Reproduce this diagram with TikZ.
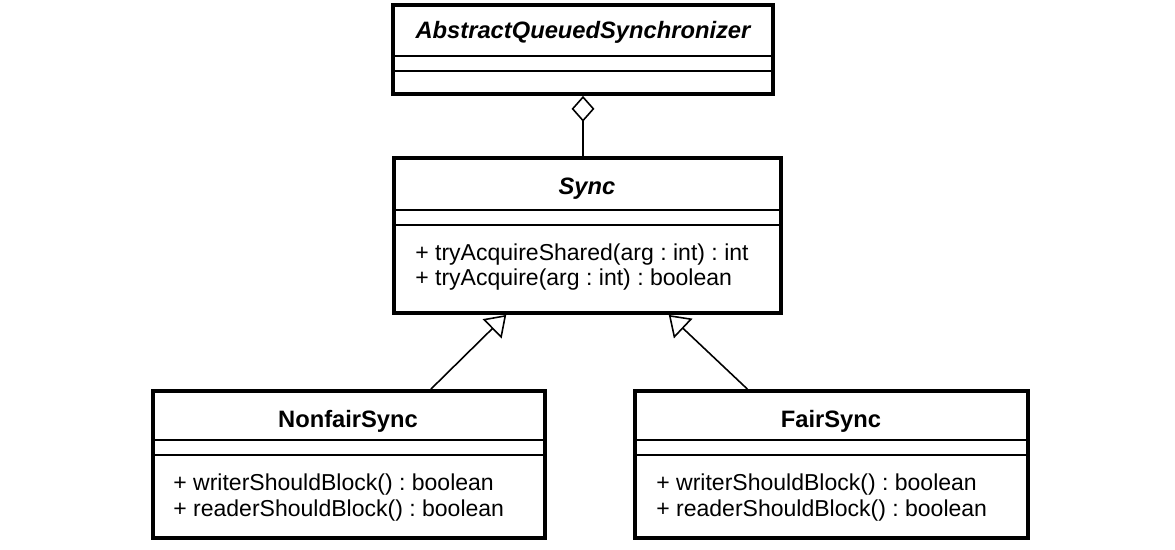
\documentclass[tikz,border=0pt]{standalone}
\usepackage{fontspec}
\setmainfont{Liberation Sans}
\usetikzlibrary{arrows.meta, positioning, calc}

\newcommand{\umlfont}{\fontsize{13.5}{16}\selectfont\frenchspacing}
\newcommand{\opfont}{\fontsize{13.1}{16}\selectfont\frenchspacing}

\begin{document}
\begin{tikzpicture}[x=0.02cm, y=-0.02cm,
    umlbox/.style={draw, line width=2.2pt, inner sep=0pt},
    sep/.style={line width=1pt},
    cname/.style={font=\umlfont\bfseries, anchor=base, inner sep=0pt},
    aname/.style={font=\umlfont\bfseries\itshape, anchor=base, inner sep=0pt},
    op/.style={font=\opfont, anchor=base west, inner sep=0pt},
    inherit/.style={line width=0.9pt, -{Triangle[open, length=11.3pt, width=15.3pt]}},
    aggr/.style={line width=0.9pt, -{Diamond[open, length=14.7pt, width=13pt]}}]

  \useasboundingbox (0,0) rectangle (1175,550);

  % class boxes
  \node[umlbox, minimum width=7.6cm, minimum height=1.78cm] (aqs) at (583,49.5) {};
  \node[umlbox, minimum width=7.74cm, minimum height=3.1cm] (sync) at (587.5,235.5) {};
  \node[umlbox, minimum width=7.84cm, minimum height=2.94cm] (nonfair) at (349,464.5) {};
  \node[umlbox, minimum width=7.86cm, minimum height=2.94cm] (fair) at (831.5,464.5) {};

  % compartments
  \foreach \b/\y in {aqs/56, aqs/71, sync/210, sync/225, nonfair/440, nonfair/455, fair/440, fair/455}
    \draw[sep] (\b.west |- 0,\y) -- (\b.east |- 0,\y);

  % names
  \node[aname] (aqsname) at (583,39) {AbstractQueuedSynchronizer};
  \node[aname] (syncname) at (587,195) {Sync};
  \node[cname] (nonfairname) at (348,427) {NonfairSync};
  \node[cname] (fairname) at (831,427) {FairSync};

  % operations
  \node[op] (syncop1) at (415,260) {+ tryAcquireShared(arg : int) : int};
  \node[op] (syncop2) at (415,285) {+ tryAcquire(arg : int) : boolean};
  \node[op] (nonfairop1) at (173,490) {+ writerShouldBlock() : boolean};
  \node[op] (nonfairop2) at (173,516) {+ readerShouldBlock() : boolean};
  \node[op] (fairop1) at (656,490) {+ writerShouldBlock() : boolean};
  \node[op] (fairop2) at (656,516) {+ readerShouldBlock() : boolean};

  % relations
  \draw[aggr] (sync.north -| aqs.south) -- (aqs.south);
  \draw[inherit] ($(nonfair.north west)!0.707!(nonfair.north east)$) -- ($(sync.south west)!0.292!(sync.south east)$);
  \draw[inherit] ($(fair.north west)!0.288!(fair.north east)$) -- ($(sync.south west)!0.708!(sync.south east)$);
\end{tikzpicture}
\end{document}
